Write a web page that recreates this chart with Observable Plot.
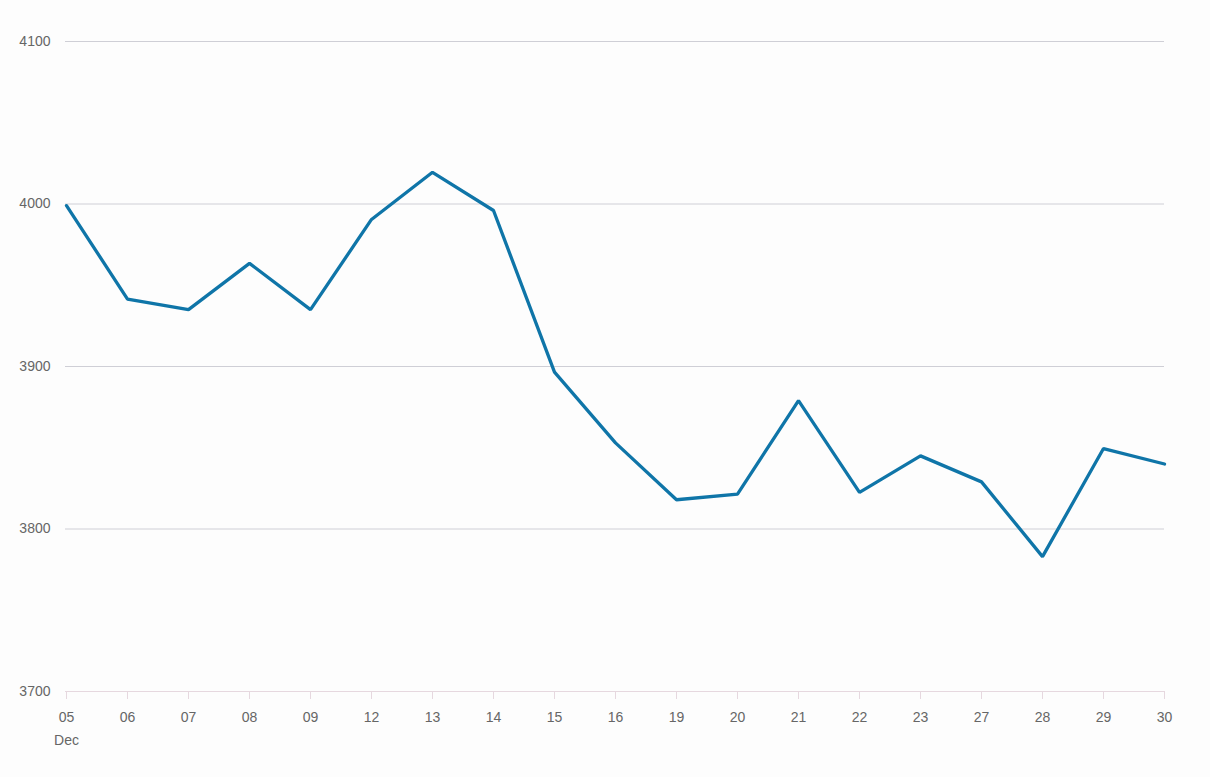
<!DOCTYPE html>
<html>
<head>
<meta charset="utf-8">
<script src="https://cdn.jsdelivr.net/npm/d3@7"></script>
<script src="https://cdn.jsdelivr.net/npm/@observablehq/plot@0.6"></script>
<style>
  html, body { margin: 0; padding: 0; background: #fdfdfd; }
  #chart svg { display: block; }
</style>
</head>
<body>
<div id="chart"></div>
<script>
const days = ["05","06","07","08","09","12","13","14","15","16","19","20","21","22","23","27","28","29","30"];
const values = [3999, 3941.5, 3935, 3963.5, 3935, 3990.5, 4019.5, 3996, 3896.5, 3853, 3818, 3821.5, 3879, 3822.5, 3845, 3829, 3783, 3849.5, 3840];
const yTicks = [3700, 3800, 3900, 4000, 4100];
const monthLabel = "Dec";

const data = days.map((d, i) => ({day: d, value: values[i]}));

const chart = Plot.plot({
  width: 1210,
  height: 777,
  marginTop: 41,
  marginBottom: 86,
  marginLeft: 65,
  marginRight: 46,
  style: {background: "#fdfdfd", fontFamily: "'Liberation Sans', Arial, sans-serif", fontSize: "14px", color: "#666"},
  x: {type: "point", domain: days, label: null, padding: 0},
  y: {domain: [3700, 4100], label: null},
  marks: [
    Plot.gridY(yTicks, {stroke: "#cfcfd6", strokeOpacity: 1, strokeWidth: 1}),
    Plot.ruleY([3700], {stroke: "#e6d8df", strokeWidth: 1}),
    Plot.axisY(yTicks, {tickSize: 0, tickPadding: 15, fill: "#666", fontSize: 14, label: null, tickFormat: d => String(d)}),
    Plot.axisX({tickSize: 8, stroke: "#e6d8df", strokeOpacity: 1, tickPadding: 7, fill: "#666", fontSize: 14, label: null,
      lineHeight: 1.6,
      tickFormat: (d, i) => i === 0 ? d + "\n" + monthLabel : d}),
    Plot.line(data, {x: "day", y: "value", stroke: "#0f75a8", strokeWidth: 3.3, strokeLinejoin: "miter"})
  ]
});
document.getElementById("chart").append(chart);
</script>
</body>
</html>
